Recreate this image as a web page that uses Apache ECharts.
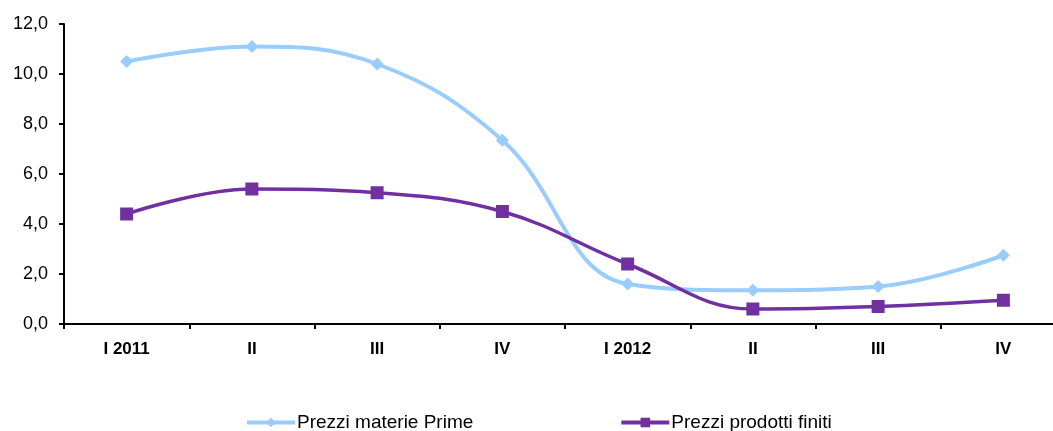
<!DOCTYPE html>
<html>
<head>
<meta charset="utf-8">
<script src="https://cdn.jsdelivr.net/npm/echarts@6/dist/echarts.min.js"></script>
<style>
  html, body { margin: 0; padding: 0; background: #fff; }
  #chart { width: 1053px; height: 431px; }
</style>
</head>
<body>
<div id="chart"></div>
<script>
  // dati
  var categories = ['I 2011', 'II', 'III', 'IV', 'I 2012', 'II', 'III', 'IV'];
  var materiePrime = [10.5, 11.1, 10.4, 7.35, 1.6, 1.35, 1.5, 2.75];
  var prodottiFiniti = [4.4, 5.4, 5.25, 4.5, 2.4, 0.6, 0.7, 0.95];

  var chart = echarts.init(document.getElementById('chart'));
  var font = '"Liberation Sans", Arial, sans-serif';

  chart.setOption({
    animation: false,
    textStyle: { fontFamily: font },
    grid: { left: 64, width: 1002, top: 24, bottom: 107, outerBoundsMode: 'none', containLabel: false },
    legend: {
      top: 408,
      left: 240,
      itemWidth: 48,
      itemHeight: 12,
      itemGap: 146,
      lineStyle: { width: 4 },
      textStyle: { fontFamily: font, fontSize: 19, color: '#000', padding: [0, 0, 0, -3] },
      data: ['Prezzi materie Prime', 'Prezzi prodotti finiti']
    },
    xAxis: {
      type: 'category',
      data: categories,
      boundaryGap: true,
      axisLine: { lineStyle: { color: '#000', width: 2 } },
      axisTick: { show: true, length: 5, lineStyle: { color: '#000', width: 2 } },
      axisLabel: { color: '#000', fontWeight: 'bold', fontSize: 17, margin: 17, fontFamily: font }
    },
    yAxis: {
      type: 'value',
      min: 0,
      max: 12,
      interval: 2,
      splitLine: { show: false },
      axisLine: { show: true, lineStyle: { color: '#000', width: 2 } },
      axisTick: { show: true, length: 5, lineStyle: { color: '#000', width: 2 } },
      axisLabel: {
        color: '#000',
        fontSize: 18,
        margin: 16,
        fontFamily: font,
        formatter: function (v) { return v.toFixed(1).replace('.', ','); }
      }
    },
    series: [
      {
        name: 'Prezzi materie Prime',
        type: 'line',
        data: materiePrime,
        smooth: 0.4,
        symbol: 'diamond',
        symbolSize: 13,
        itemStyle: { color: '#99CCFF' },
        lineStyle: { color: '#99CCFF', width: 4 }
      },
      {
        name: 'Prezzi prodotti finiti',
        type: 'line',
        data: prodottiFiniti,
        smooth: 0.4,
        symbol: 'rect',
        symbolSize: 13,
        itemStyle: { color: '#7030A0' },
        lineStyle: { color: '#7030A0', width: 3.5 }
      }
    ]
  });
</script>
</body>
</html>
